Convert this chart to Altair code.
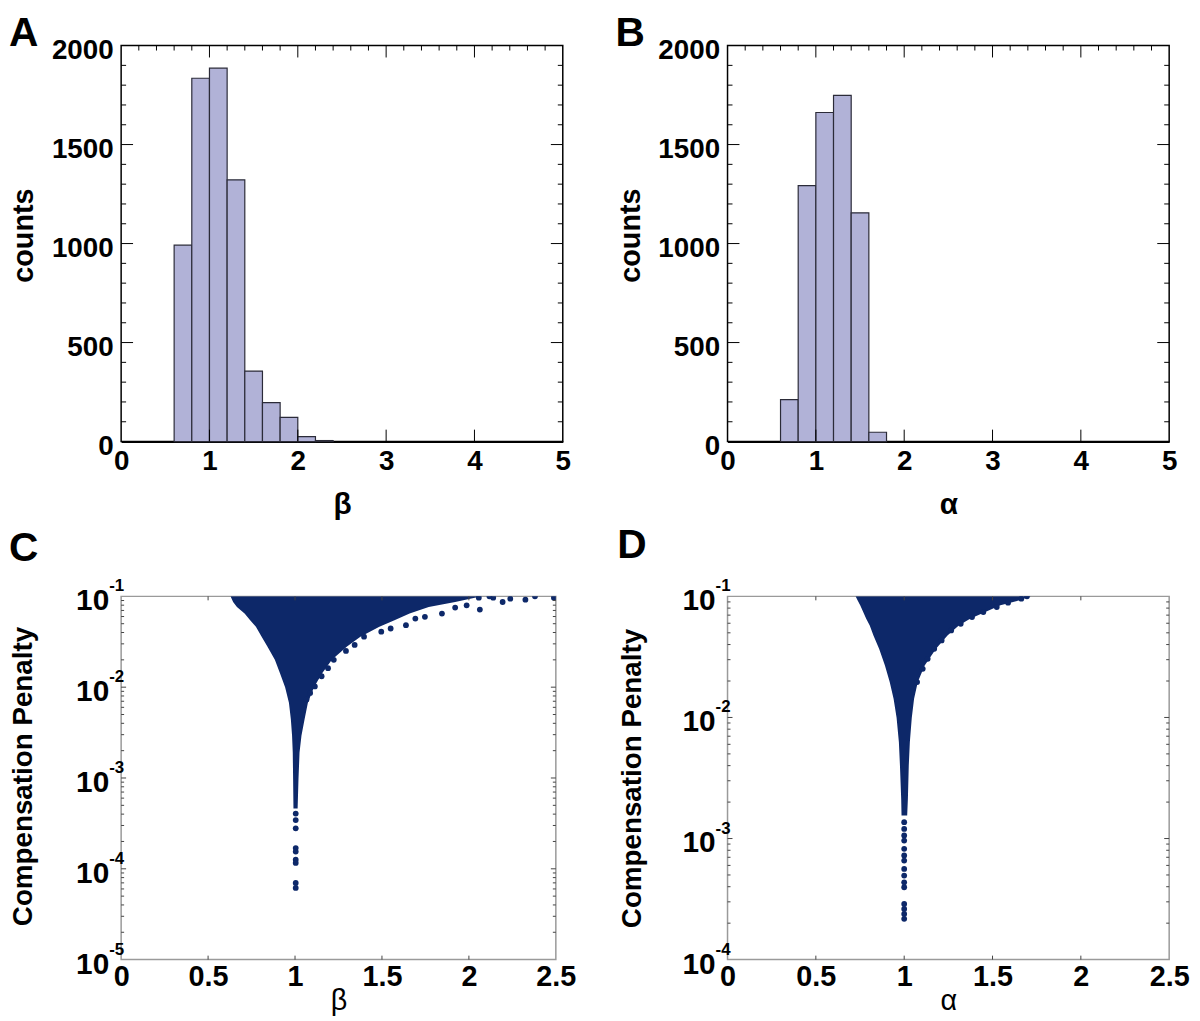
import altair as alt
import pandas as pd

FONT = "Liberation Sans"
BAR_FILL = "#b1b2d7"
BAR_EDGE = "#2b2b38"
NAVY = "#0d2869"
FRAME_GRAY = "#9a9a9a"
TICK_DARK = "#444444"

# ---------------- Panel A: histogram of beta ----------------
a_bin_start = [0.6, 0.8, 1.0, 1.2, 1.4, 1.6, 1.8, 2.0, 2.2]
a_bin_end = [0.8, 1.0, 1.2, 1.4, 1.6, 1.8, 2.0, 2.2, 2.4]
a_counts = [992, 1835, 1886, 1322, 356, 197, 122, 25, 5]

# ---------------- Panel B: histogram of alpha ----------------
b_bin_start = [0.6, 0.8, 1.0, 1.2, 1.4, 1.6]
b_bin_end = [0.8, 1.0, 1.2, 1.4, 1.6, 1.8]
b_counts = [212, 1293, 1662, 1748, 1155, 47]

hist_x_labels = [0, 1, 2, 3, 4, 5]
hist_x_major_inner = [1, 2, 3, 4]
hist_x_minor = [0.2, 0.4, 0.6, 0.8, 1.2, 1.4, 1.6, 1.8, 2.2, 2.4, 2.6, 2.8,
                3.2, 3.4, 3.6, 3.8, 4.2, 4.4, 4.6, 4.8]
hist_y_labels = [0, 500, 1000, 1500, 2000]
hist_y_major_inner = [500, 1000, 1500]
hist_y_minor = [100, 200, 300, 400, 600, 700, 800, 900, 1100, 1200, 1300, 1400,
                1600, 1700, 1800, 1900]

# ---------------- Panel C: penalty vs beta ----------------
# dense region (left / right edge of the filled cloud at each penalty level)
c_env_y = [0.1, 0.0867, 0.0765, 0.0647, 0.0547, 0.0463, 0.036, 0.028, 0.02,
           0.0143, 0.01, 0.00673, 0.00443, 0.00291, 0.00191, 0.00098, 0.00046]
c_env_left = [0.629, 0.644, 0.666, 0.71, 0.742, 0.775, 0.808, 0.841, 0.884,
              0.913, 0.943, 0.965, 0.976, 0.983, 0.987, 0.989, 0.991]
c_env_right = [2.074, 1.921, 1.769, 1.659, 1.572, 1.485, 1.376, 1.299, 1.212,
               1.157, 1.109, 1.074, 1.055, 1.037, 1.026, 1.02, 1.015]
# individual points outside the dense region
c_pts_x = [2.057, 2.063, 2.118, 2.140, 2.194, 2.238, 2.325, 2.380, 2.489, 1.987,
           1.921, 1.845, 1.747, 1.692, 1.638, 1.550, 1.496, 1.397, 1.343, 1.293,
           1.223, 1.190, 1.153, 1.114, 1.087, 1.066,
           1.004, 1.004, 1.004, 1.004, 1.004, 1.004, 1.004, 1.004, 1.004]
c_pts_y = [0.0967, 0.0715, 0.1, 0.0967, 0.0867, 0.0943, 0.092, 0.1, 0.0967, 0.0797,
           0.0752, 0.0647, 0.0595, 0.057, 0.0482, 0.0443, 0.0408, 0.036, 0.0292, 0.0251,
           0.02, 0.0162, 0.0132, 0.0102, 0.00865, 0.00732,
           0.000406, 0.000344, 0.000279, 0.000169, 0.000155, 0.000126, 0.000116,
           0.0000699, 0.0000616]
c_decades = [1e-5, 1e-4, 1e-3, 1e-2, 1e-1]
c_exponents = ["-5", "-4", "-3", "-2", "-1"]

# ---------------- Panel D: penalty vs alpha ----------------
d_env_y = [0.1, 0.0927, 0.0843, 0.0742, 0.0654, 0.0576, 0.0476, 0.0369, 0.0269,
           0.0196, 0.01427, 0.00994, 0.00625, 0.00401, 0.00213, 0.00155]
d_env_left = [0.725, 0.736, 0.751, 0.768, 0.785, 0.805, 0.826, 0.858, 0.891,
              0.918, 0.940, 0.957, 0.970, 0.976, 0.983, 0.985]
d_env_right = [1.717, 1.652, 1.545, 1.459, 1.373, 1.309, 1.245, 1.180, 1.116,
               1.077, 1.056, 1.043, 1.032, 1.026, 1.021, 1.017]
d_pts_x = [1.695, 1.663, 1.588, 1.524, 1.448, 1.384, 1.320, 1.266, 1.212, 1.170,
           1.133, 1.105, 1.073,
           1.0, 1.0, 1.0, 1.0, 1.0, 1.0, 1.0, 1.0, 1.0, 1.0, 1.0, 1.0, 1.0, 1.0, 1.0]
d_pts_y = [0.1, 0.0957, 0.0887, 0.0817, 0.0742, 0.0675, 0.0594, 0.0523, 0.0433, 0.0369,
           0.0305, 0.0252, 0.0196,
           0.001365, 0.0012, 0.00106, 0.000962, 0.000822, 0.000724, 0.000658,
           0.000561, 0.000494, 0.000435, 0.000396, 0.000288, 0.000262, 0.000238,
           0.000217]
d_decades = [1e-4, 1e-3, 1e-2, 1e-1]
d_exponents = ["-4", "-3", "-2", "-1"]

scatter_x_labels = [0, 0.5, 1, 1.5, 2, 2.5]
scatter_x_inner = [0.5, 1, 1.5, 2]


def rules_x(values, scale, y0, y1, color, width=1.0):
    return alt.Chart(pd.DataFrame({"v": values})).mark_rule(
        color=color, strokeWidth=width
    ).encode(x=alt.X("v:Q", scale=scale), y=alt.value(y0), y2=alt.value(y1))


def rules_y(values, scale, x0, x1, color, width=1.0):
    return alt.Chart(pd.DataFrame({"v": values})).mark_rule(
        color=color, strokeWidth=width
    ).encode(y=alt.Y("v:Q", scale=scale), x=alt.value(x0), x2=alt.value(x1))


def letter_layer(letter, lx, ly):
    return alt.Chart(pd.DataFrame({"t": [letter]})).mark_text(
        align="left", baseline="alphabetic", fontSize=41, fontWeight="bold", color="black"
    ).encode(x=alt.value(lx), y=alt.value(ly), text="t:N")


def hist_panel(letter, starts, ends, counts, xtitle, W, H, lx, ly):
    xs = alt.Scale(domain=[0, 5], nice=False, zero=False)
    ys = alt.Scale(domain=[0, 2000], nice=False, zero=True)
    df = pd.DataFrame({"start": starts, "end": ends, "count": counts,
                       "base": [0] * len(counts)})
    bars = alt.Chart(df).mark_rect(
        fill=BAR_FILL, stroke=BAR_EDGE, strokeWidth=1.2
    ).encode(
        x=alt.X("start:Q", scale=xs, axis=alt.Axis(
            values=hist_x_labels, format="d", title=xtitle,
            labelFontSize=28, labelFontWeight="bold", labelPadding=6,
            labelFlush=False, labelOverlap=False, ticks=False,
            domain=True, domainColor="black", domainWidth=2,
            titleFontSize=30, titleFontWeight="bold", titleY=63,
            titleBaseline="middle")),
        x2="end:Q",
        y=alt.Y("count:Q", scale=ys, axis=alt.Axis(
            values=hist_y_labels, format="d", title="counts",
            labelFontSize=28, labelFontWeight="bold", labelPadding=8,
            labelOffset=5, labelFlush=False, labelOverlap=False,
            ticks=False, domain=False,
            titleFontSize=29, titleFontWeight="bold", titleX=-98, titleY=191,
            titleAlign="center", titleBaseline="middle")),
        y2="base:Q",
    )
    ticks = [
        rules_x(hist_x_minor, xs, 0, 5, "black"),
        rules_x(hist_x_major_inner, xs, 0, 12, "black"),
        rules_x(hist_x_major_inner, xs, H - 12, H, "black"),
        rules_y(hist_y_minor, ys, 0, 5, "black"),
        rules_y(hist_y_major_inner, ys, 0, 12, "black"),
        rules_y(hist_y_minor, ys, W - 5, W, "black"),
        rules_y(hist_y_major_inner, ys, W - 12, W, "black"),
    ]
    return alt.layer(bars, *ticks, letter_layer(letter, lx, ly)).properties(
        width=W, height=H, view=alt.ViewBackground(stroke="black", strokeWidth=1.5)
    )


def scatter_panel(letter, env_y, env_l, env_r, px, py, ymin, decades, exps,
                  xtitle, W, H, lx, ly, ytx, yty, xty):
    xs = alt.Scale(domain=[0, 2.5], nice=False, zero=False)
    ys = alt.Scale(type="log", domain=[ymin, 0.1], nice=False)
    minor = [m * d for d in decades[:-1] for m in range(2, 10)]
    inner_major = decades[1:-1]
    env = pd.DataFrame({"y": env_y, "left": env_l, "right": env_r})
    area = alt.Chart(env).mark_area(orient="horizontal", color=NAVY, clip=True).encode(
        y=alt.Y("y:Q", scale=ys, axis=alt.Axis(
            labels=False, ticks=False, domain=False, grid=False,
            title="Compensation Penalty", titleFontSize=28, titleFontWeight="bold",
            titleX=ytx, titleY=yty, titleAlign="center", titleBaseline="middle")),
        x=alt.X("left:Q", scale=xs, axis=alt.Axis(
            values=scatter_x_labels, format="~g", title=xtitle,
            labelFontSize=29, labelFontWeight="bold", labelPadding=3,
            labelFlush=False, labelOverlap=False, ticks=False, domain=False,
            titleFontSize=29, titleFontWeight="normal", titleY=xty,
            titleBaseline="middle")),
        x2="right:Q",
    )
    pts = alt.Chart(pd.DataFrame({"x": px, "y": py})).mark_circle(
        color=NAVY, size=34, opacity=1, clip=True
    ).encode(x=alt.X("x:Q", scale=xs), y=alt.Y("y:Q", scale=ys))
    ticks = [
        rules_y(minor, ys, 0, 3, TICK_DARK),
        rules_y(inner_major, ys, 0, 5, TICK_DARK),
        rules_y(minor, ys, W - 3, W, TICK_DARK),
        rules_y(inner_major, ys, W - 5, W, TICK_DARK),
        rules_x(scatter_x_inner, xs, H - 4, H, TICK_DARK),
        rules_x(scatter_x_inner, xs, 0, 4, TICK_DARK),
    ]
    lbl = alt.Chart(pd.DataFrame({"v": decades, "b": ["10"] * len(decades), "e": exps}))
    lbl10 = lbl.mark_text(align="right", baseline="middle", dx=-12, dy=5,
                          fontSize=30, fontWeight="bold", color="black").encode(
        y=alt.Y("v:Q", scale=ys), x=alt.value(0), text="b:N")
    lblexp = lbl.mark_text(align="left", baseline="middle", dx=-12, dy=-10,
                           fontSize=17, fontWeight="bold", color="black").encode(
        y=alt.Y("v:Q", scale=ys), x=alt.value(0), text="e:N")
    return alt.layer(area, pts, *ticks, lbl10, lblexp, letter_layer(letter, lx, ly)).properties(
        width=W, height=H, view=alt.ViewBackground(stroke=FRAME_GRAY, strokeWidth=1.5)
    )


A = hist_panel("A", a_bin_start, a_bin_end, a_counts, "β", 445, 399, -113, 0)
B = hist_panel("B", b_bin_start, b_bin_end, b_counts, "α", 445, 399, -113, 0)
C = scatter_panel("C", c_env_y, c_env_left, c_env_right, c_pts_x, c_pts_y, 1e-5,
                  c_decades, c_exponents, "β", 438, 366, -113, -36, -98, 181, 41)
D = scatter_panel("D", d_env_y, d_env_left, d_env_right, d_pts_x, d_pts_y, 1e-4,
                  d_decades, d_exponents, "α", 445, 366, -111, -39, -96, 183, 41)

chart = alt.concat(
    A, B, C, D, columns=2, spacing={"row": 156, "column": 166}, bounds="flush"
).properties(
    padding={"left": 0, "top": 0, "right": 2, "bottom": 0}
).configure(font=FONT).configure_axis(
    grid=False, labelColor="black", titleColor="black", labelFont=FONT, titleFont=FONT
)

chart.save("out.html", embed_options={"renderer": "svg", "actions": False})
